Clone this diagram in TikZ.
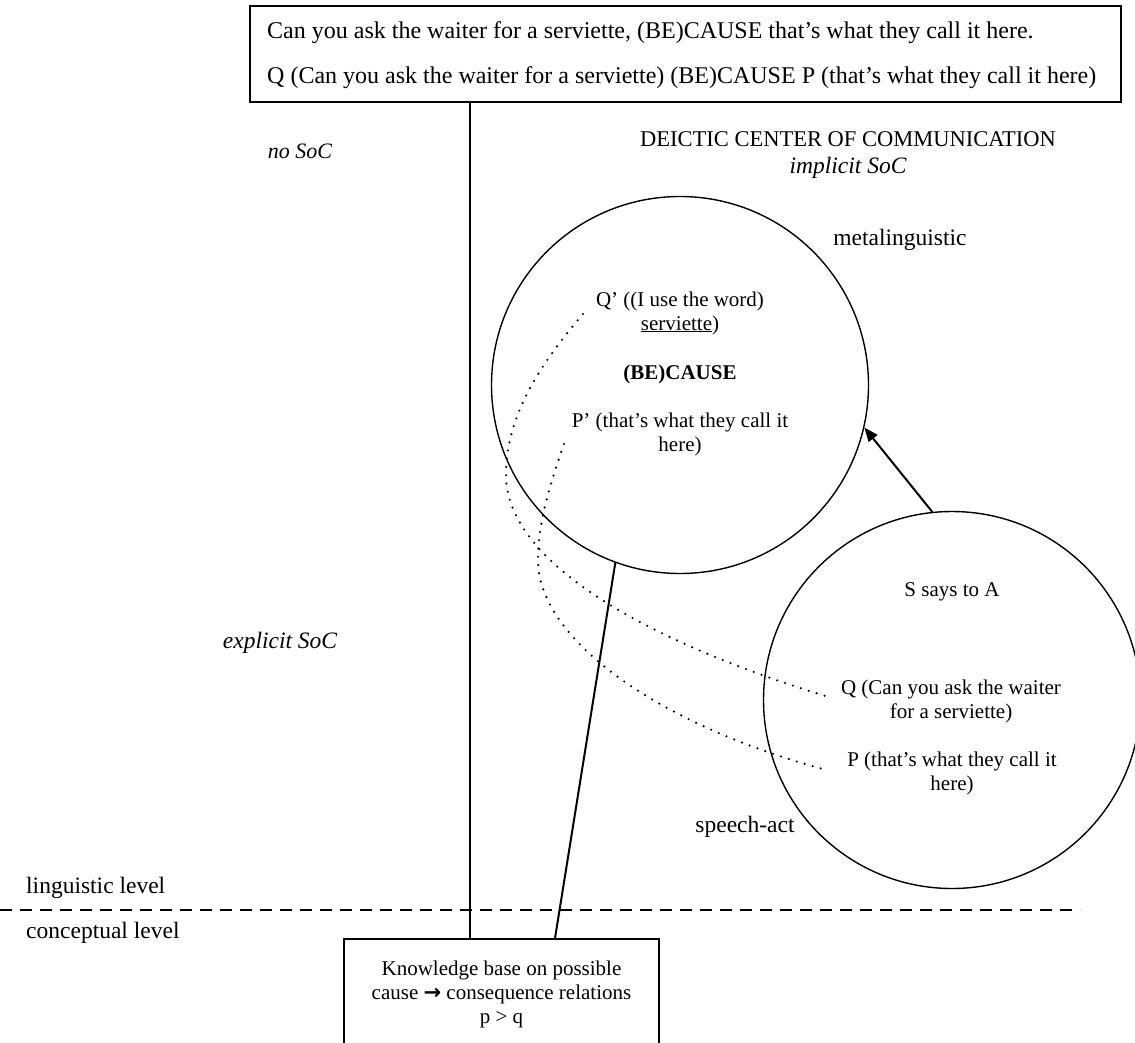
\documentclass[tikz,border=0pt]{standalone}
\usepackage{fontspec}
\setmainfont{Liberation Serif}
\newfontfamily\symfont{DejaVu Sans}
\usetikzlibrary{calc,arrows.meta}
\begin{document}
\begin{tikzpicture}[x=1pt,y=-1pt,
  every node/.style={font=\fontsize{21}{24}\selectfont},
  txt/.style={inner sep=0pt, align=center},
  big/.style={font=\fontsize{23.5}{27}\selectfont},
  frame/.style={draw, line width=1.6pt, inner sep=0pt},
  zone/.style={draw, circle, line width=1.4pt, inner sep=0pt, minimum size=377pt},
  link/.style={line width=2pt},
  dotlink/.style={line width=2.4pt, line cap=round, dash pattern=on 0pt off 8.3pt},
  levelline/.style={line width=2pt, dash pattern=on 12pt off 8pt},
  pointer/.style={line width=2pt, -{Triangle[length=14pt,width=11pt]}}
]
\useasboundingbox (0,0) rectangle (1135,1042);
\clip (0,0) rectangle (1135,1042);

% utterance box
\node[frame, minimum width=871pt, minimum height=96pt] (top) at (685.5,54) {};
\node[txt, anchor=west, font=\fontsize{24}{28}\selectfont] (utt) at (267,33)
  {Can you ask the waiter for a serviette, (BE)CAUSE that’s what they call it here.};
\node[txt, anchor=west, font=\fontsize{24}{28}\selectfont] (form) at (267,78)
  {Q (Can you ask the waiter for a serviette) (BE)CAUSE P (that’s what they call it here)};

% headings
\node[txt, font=\fontsize{22.5}{26}\selectfont] (dcc) at (848,139) {DEICTIC CENTER OF COMMUNICATION};
\node[txt, big] (impl) at (848,168) {\itshape implicit SoC};
\node[txt, font=\fontsize{22}{26}\selectfont] (nosoc) at (300,151) {\itshape no SoC};
\node[txt, big] (expl) at (280,643) {\itshape explicit SoC};

% metalinguistic domain
\node[zone] (meta) at (680,385) {};
\node[txt, big] (metalab) at (900,240) {metalinguistic};
\node[txt] (qp) at (680,313) {Q’ ((I use the word)\\\underline{serviette})};
\node[txt, font=\fontsize{21}{24}\selectfont\bfseries] (bc) at (680,374) {(BE)CAUSE};
\node[txt] (pp) at (680,434) {P’ (that’s what they call it\\here)};

% speech-act domain
\node[zone] (speech) at (952,700) {};
\node[txt] (says) at (952,592) {S says to A};
\node[txt] (q) at (951,701) {Q (Can you ask the waiter\\for a serviette)};
\node[txt] (p) at (952,773) {P (that’s what they call it\\here)};
\node[txt, big] (salab) at (745,827) {speech-act};

% levels
\coordinate (dl1) at (0,910);
\coordinate (dl2) at (1080,910);
\draw[levelline] (dl1) -- (dl2);
\node[txt, big, anchor=west] (ling) at (26,888) {linguistic level};
\node[txt, big, anchor=west] (conc) at (26,933) {conceptual level};

% knowledge base
\node[frame, minimum width=315pt, minimum height=110pt] (kb) at (501.5,994) {};
\node[txt] (kbtext) at (501.5,994)
  {Knowledge base on possible\\cause {\symfont\bfseries →} consequence relations\\p > q};

% connectors
\coordinate (vx) at (470,0);
\draw[link] (top.south -| vx) -- (kb.north -| vx);
\draw[link] (meta.250.5) -- ($(kb.north west)!0.669!(kb.north east)$);
\draw[pointer] (speech.96) -- (meta.-13);

% dotted correspondences
\coordinate (qs) at (583,314);
\coordinate (qe) at (832,698);
\coordinate (ps) at (564,444);
\coordinate (pe) at (823,769);
\draw[dotlink] (qs) .. controls (535,370) and (506,420) .. (506,475)
               .. controls (506,560) and (640,640) .. (qe);
\draw[dotlink] (ps) .. controls (548,490) and (538,525) .. (538,560)
               .. controls (538,640) and (660,725) .. (pe);
\end{tikzpicture}
\end{document}
